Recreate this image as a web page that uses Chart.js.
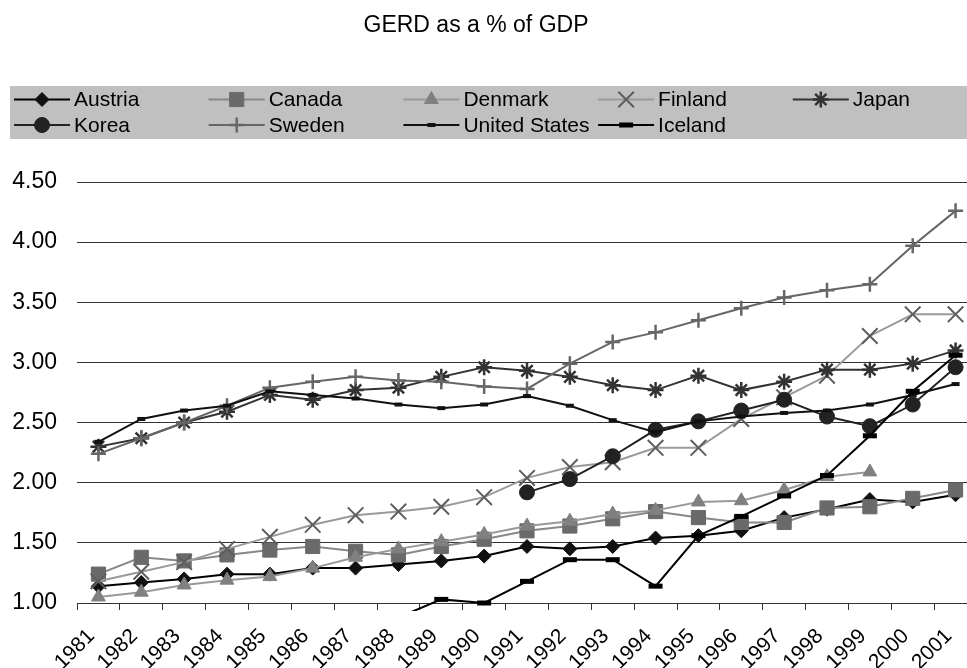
<!DOCTYPE html>
<html>
<head>
<meta charset="utf-8">
<script src="https://cdn.jsdelivr.net/npm/chart.js@4.4.1/dist/chart.umd.min.js"></script>
<style>
  html, body { margin: 0; padding: 0; background: #fff; overflow: hidden; }
  #wrap { width: 990px; height: 668px; }
</style>
</head>
<body>
<div id="wrap"><canvas id="gerd" width="990" height="668"></canvas></div>
<script>
// GERD en % du PIB, 1981-2001
const years = ['1981', '1982', '1983', '1984', '1985', '1986', '1987', '1988', '1989', '1990', '1991',
               '1992', '1993', '1994', '1995', '1996', '1997', '1998', '1999', '2000', '2001'];

const austria = [1.14, 1.17, 1.20, 1.24, 1.24, 1.29, 1.29, 1.32, 1.35, 1.39, 1.47, 1.45, 1.47, 1.54, 1.56, 1.60, 1.71, 1.78, 1.86, 1.84, 1.90];
const canada  = [1.24, 1.38, 1.35, 1.40, 1.44, 1.47, 1.43, 1.40, 1.47, 1.53, 1.60, 1.64, 1.70, 1.76, 1.71, 1.67, 1.67, 1.79, 1.80, 1.87, 1.94];
const denmark = [1.05, 1.09, 1.15, 1.19, 1.22, 1.29, 1.38, 1.45, 1.51, 1.57, 1.64, 1.68, 1.74, 1.77, 1.84, 1.85, 1.94, 2.05, 2.09, null, null];
const finland = [1.18, 1.26, 1.34, 1.45, 1.55, 1.65, 1.73, 1.76, 1.80, 1.88, 2.04, 2.13, 2.17, 2.29, 2.29, 2.53, 2.71, 2.89, 3.22, 3.40, 3.40];
const japan   = [2.30, 2.37, 2.50, 2.59, 2.73, 2.69, 2.77, 2.79, 2.88, 2.96, 2.93, 2.88, 2.81, 2.77, 2.89, 2.77, 2.84, 2.94, 2.94, 2.99, 3.10];
const korea   = [null, null, null, null, null, null, null, null, null, null, 1.92, 2.03, 2.22, 2.44, 2.51, 2.60, 2.69, 2.55, 2.47, 2.65, 2.96];
const sweden  = [2.24, 2.37, 2.50, 2.64, 2.79, 2.84, 2.88, 2.85, 2.84, 2.80, 2.78, 2.99, 3.17, 3.25, 3.35, 3.45, 3.54, 3.60, 3.65, 3.97, 4.26];
const usa     = [2.34, 2.53, 2.60, 2.64, 2.76, 2.73, 2.70, 2.65, 2.62, 2.65, 2.72, 2.64, 2.52, 2.42, 2.51, 2.55, 2.58, 2.60, 2.65, 2.73, 2.82];
const iceland = [null, null, null, null, null, null, null, 0.88, 1.03, 1.00, 1.18, 1.36, 1.36, 1.14, 1.56, 1.72, 1.89, 2.06, 2.39, 2.76, 3.06];

const yTicks = [1.00, 1.50, 2.00, 2.50, 3.00, 3.50, 4.00, 4.50];

const FONT = "'Liberation Sans', Arial, sans-serif";
Chart.defaults.font.family = FONT;
Chart.defaults.color = '#000';

// style de chaque série (ligne, marqueur)
function serie(label, data, line, mark, style, radius, markWidth) {
    return {
        label: label,
        data: data,
        borderColor: line,
        borderWidth: 2,
        pointStyle: style,
        pointRadius: radius,
        pointHoverRadius: radius,
        pointBackgroundColor: mark,
        pointBorderColor: mark,
        pointBorderWidth: markWidth,
        tension: 0,
        spanGaps: false
    };
}

const datasets = [
    serie('Austria', austria, '#000000', '#111111', 'rectRot', 7, 1),
    serie('Canada', canada, '#888888', '#6a6a6a', 'rect', 10, 1),
    serie('Denmark', denmark, '#999999', '#808080', 'triangle', 8, 1),
    serie('Finland', finland, '#9a9a9a', '#5e5e5e', 'crossRot', 11, 2),
    serie('Japan', japan, '#333333', '#333333', 'star', 8, 2.5),
    serie('Korea', korea, '#222222', '#222222', 'circle', 7.5, 1),
    serie('Sweden', sweden, '#666666', '#666666', 'cross', 7.5, 2.5),
    serie('United States', usa, '#111111', '#111111', 'line', 4, 4),
    serie('Iceland', iceland, '#000000', '#000000', 'line', 7, 5)
];

// comme Excel : la dernière série est dessinée au-dessus
datasets.forEach((ds, i) => { ds.order = datasets.length - i; });
datasets[8].clip = { left: 5, top: 5, right: 5, bottom: 8 };

// titre + légende grise en colonnes
const legendBox = {
    id: 'legendBox',
    afterDraw(chart) {
        const ctx = chart.ctx;
        ctx.save();
        ctx.fillStyle = '#000';
        ctx.font = '23px ' + FONT;
        ctx.textAlign = 'center';
        ctx.textBaseline = 'middle';
        ctx.fillText('GERD as a % of GDP', 476, 26);

        ctx.fillStyle = '#c0c0c0';
        ctx.fillRect(10, 86, chart.width - 10, 53);

        chart.data.datasets.forEach((ds, i) => {
            const x = 14 + (i % 5) * 194.7;
            const y = i < 5 ? 99.5 : 125;
            ctx.strokeStyle = ds.borderColor;
            ctx.lineWidth = ds.borderWidth;
            ctx.beginPath();
            ctx.moveTo(x, y);
            ctx.lineTo(x + 56, y);
            ctx.stroke();

            ctx.fillStyle = ds.pointBackgroundColor;
            ctx.strokeStyle = ds.pointBorderColor;
            ctx.lineWidth = ds.pointBorderWidth;
            Chart.helpers.drawPoint(ctx, {
                pointStyle: ds.pointStyle,
                radius: ds.pointRadius,
                borderWidth: ds.pointBorderWidth,
                rotation: 0
            }, x + 28, y);

            ctx.fillStyle = '#000';
            ctx.font = '21px ' + FONT;
            ctx.textAlign = 'left';
            ctx.textBaseline = 'middle';
            ctx.fillText(ds.label, x + 60, y + 1);
        });
        ctx.restore();
    }
};

new Chart(document.getElementById('gerd'), {
    type: 'line',
    data: { labels: years, datasets: datasets },
    plugins: [legendBox],
    options: {
        responsive: false,
        animation: false,
        layout: { padding: { top: 182, right: 13, left: 0, bottom: 0 } },
        scales: {
            x: {
                offset: true,
                afterFit: (scale) => { scale.height = 65; },
                grid: { offset: true, drawOnChartArea: false, drawTicks: true, tickLength: 7, color: '#333' },
                border: { display: true, color: '#333', width: 1 },
                ticks: {
                    autoSkip: false,
                    minRotation: 45,
                    maxRotation: 45,
                    labelOffset: -7,
                    padding: 14,
                    color: '#000',
                    font: { size: 21 }
                }
            },
            y: {
                min: 1,
                max: 4.5,
                afterFit: (scale) => { scale.width = 77; },
                afterBuildTicks: (scale) => { scale.ticks = yTicks.map(v => ({ value: v })); },
                grid: { drawTicks: false, color: '#333', lineWidth: 1 },
                border: { display: false },
                ticks: {
                    padding: 20,
                    color: '#000',
                    font: { size: 23 },
                    callback: (v) => Number(v).toFixed(2)
                }
            }
        },
        plugins: {
            legend: { display: false },
            title: { display: false },
            tooltip: { enabled: false }
        }
    }
});
</script>
</body>
</html>
